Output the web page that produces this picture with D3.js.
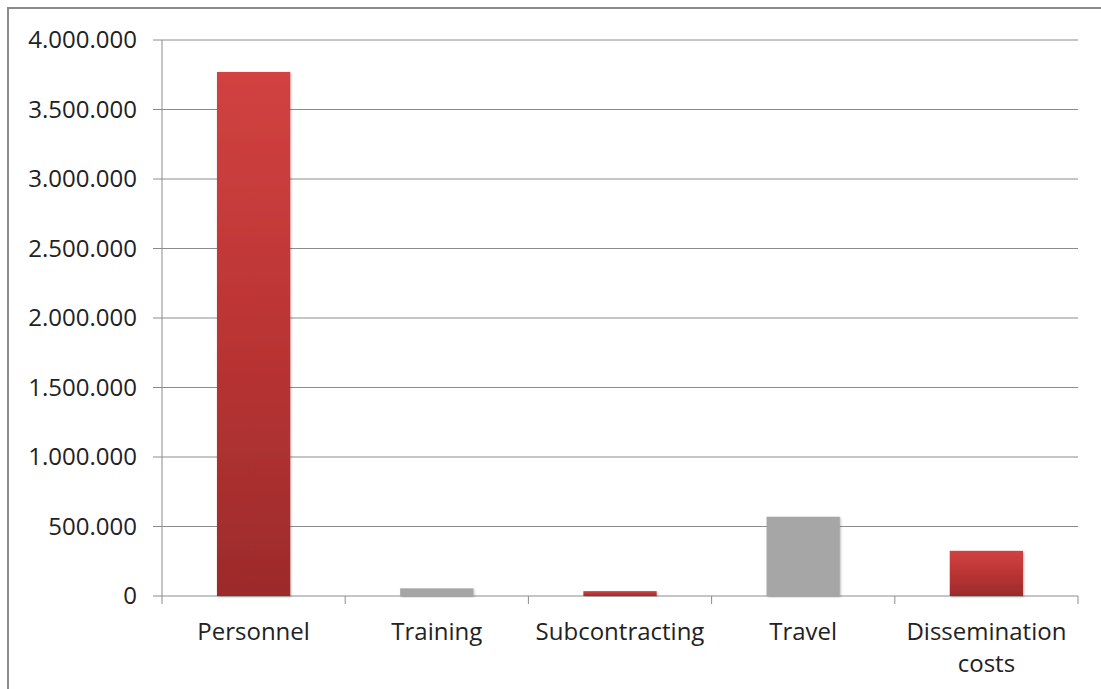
<!DOCTYPE html>
<html><head><meta charset="utf-8">
<script src="https://cdn.jsdelivr.net/npm/d3@7"></script>
<style>body{margin:0;background:#fff}svg{display:block}</style>
</head><body>
<script>
const categories = ["Personnel","Training","Subcontracting","Travel","Dissemination costs"];
const values = [3770000, 55000, 35000, 570000, 325000];
const barKinds = ["red","gray","red","gray","red"];
const yTicks = [0,500000,1000000,1500000,2000000,2500000,3000000,3500000,4000000];

const W = 1101, H = 689;
const m = {left:162, right:23, top:40, bottom:93};
const svg = d3.select("body").append("svg").attr("width",W).attr("height",H);
const defs = svg.append("defs");
const g1 = defs.append("linearGradient").attr("id","redGrad").attr("x1",0).attr("y1",0).attr("x2",0).attr("y2",1);
g1.append("stop").attr("offset","0%").attr("stop-color","#d14241");
g1.append("stop").attr("offset","50%").attr("stop-color","#bb3434");
g1.append("stop").attr("offset","100%").attr("stop-color","#9c2b2b");
const f = defs.append("filter").attr("id","sh").attr("x","-10%").attr("y","-10%").attr("width","130%").attr("height","130%");
f.append("feDropShadow").attr("dx",1).attr("dy",1).attr("stdDeviation",1.2).attr("flood-color","#000").attr("flood-opacity",0.25);

// outer frame
svg.append("rect").attr("x",8).attr("y",8).attr("width",W+20).attr("height",H+20)
  .attr("fill","none").attr("stroke","#8c8c8c").attr("stroke-width",2);

const x = d3.scaleBand().domain(categories).range([m.left, W-m.right]).paddingInner(0.6).paddingOuter(0.3);
const xb = d3.scaleBand().domain(categories).range([m.left, W-m.right]);
const y = d3.scaleLinear().domain([0,4000000]).range([H-m.bottom, m.top]);

const fmt = v => d3.format(",")(v).replace(/,/g,".");
const FONT = "Open Sans", FS = 24;

// gridlines
svg.append("g").selectAll("line").data(yTicks).join("line")
  .attr("x1",m.left-9).attr("x2",W-m.right)
  .attr("y1",d=>y(d)).attr("y2",d=>y(d))
  .attr("stroke","#8c8c8c").attr("stroke-width",1);

// y axis line
svg.append("line").attr("x1",m.left).attr("x2",m.left).attr("y1",y(4000000)).attr("y2",y(0)+8)
  .attr("stroke","#8c8c8c");
// x axis ticks
const xt = categories.map(c=>xb(c)+xb.bandwidth());
svg.append("g").selectAll("line").data(xt).join("line")
  .attr("x1",d=>d).attr("x2",d=>d).attr("y1",y(0)).attr("y2",y(0)+8).attr("stroke","#8c8c8c");

// y labels
svg.append("g").selectAll("text").data(yTicks).join("text")
  .attr("x",m.left-25).attr("y",d=>y(d)).attr("dy","0.35em").attr("text-anchor","end")
  .attr("font-family",FONT).attr("font-size",FS).attr("fill","#222").text(fmt);

// bars
svg.append("g").selectAll("rect").data(categories).join("rect")
  .attr("x",d=>x(d)).attr("width",x.bandwidth())
  .attr("y",(d,i)=>y(values[i])).attr("height",(d,i)=>y(0)-y(values[i]))
  .attr("fill",(d,i)=>barKinds[i]==="red"?"url(#redGrad)":"#a6a6a6")
  .attr("filter","url(#sh)");

// x labels
const xl = svg.append("g").selectAll("text").data(categories).join("text")
  .attr("text-anchor","middle").attr("font-family",FONT).attr("font-size",FS).attr("fill","#222")
  .attr("x",d=>xb(d)+xb.bandwidth()/2).attr("y",y(0)+44);
xl.each(function(d){
  const lines = d==="Dissemination costs" ? ["Dissemination","costs"] : [d];
  const t = d3.select(this);
  lines.forEach((l,i)=>t.append("tspan").attr("x",xb(d)+xb.bandwidth()/2).attr("dy",i?32:0).text(l));
});
</script>
</body></html>
